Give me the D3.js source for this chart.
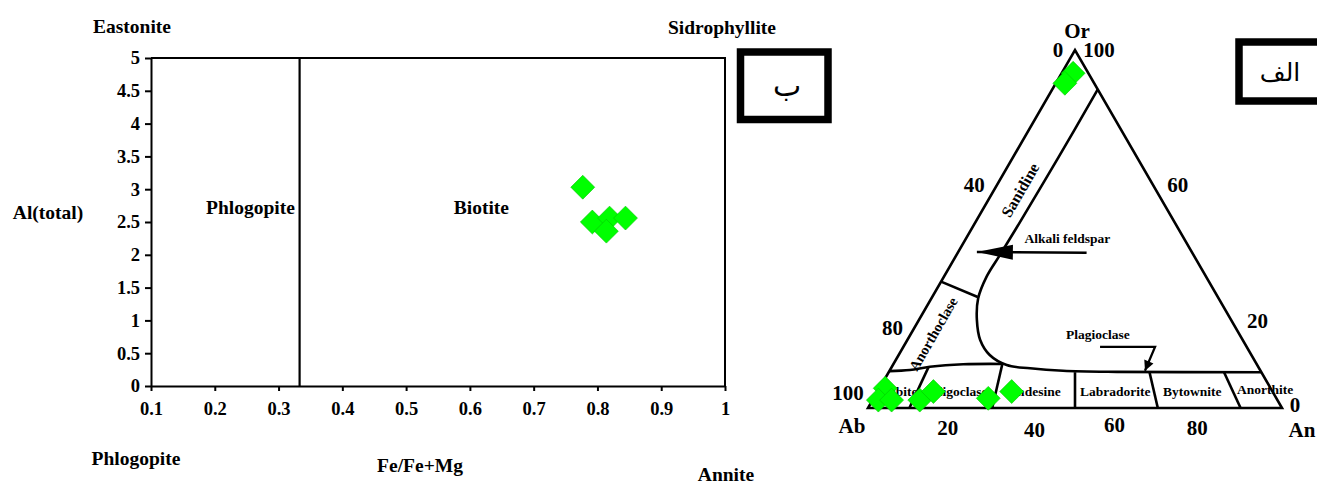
<!DOCTYPE html>
<html>
<head>
<meta charset="utf-8">
<script src="https://cdn.jsdelivr.net/npm/d3@7"></script>
<style>
  body { margin: 0; background: #fff; }
  svg text { font-family: "Liberation Serif", "Times New Roman", serif; font-weight: bold; fill: #000; }
</style>
</head>
<body>
<div id="chart"></div>
<script>
// biotite diagram (ب)
const xTicks = [0.1, 0.2, 0.3, 0.4, 0.5, 0.6, 0.7, 0.8, 0.9, 1]
const xTickLabels = ['0.1', '0.2', '0.3', '0.4', '0.5', '0.6', '0.7', '0.8', '0.9', '1']
const yTicks = [0, 0.5, 1, 1.5, 2, 2.5, 3, 3.5, 4, 4.5, 5]
const yTickLabels = ['0', '0.5', '1', '1.5', '2', '2.5', '3', '3.5', '4', '4.5', '5']
const phlogopiteLimit = 0.333
const micaFeRatio = [0.777, 0.792, 0.819, 0.844, 0.814]
const micaAlTotal = [3.03, 2.50, 2.56, 2.56, 2.36]

// feldspar ternary (الف), values in percent
const feldsparOr = [93.5, 90.7, 5.5, 2.2, 2.2, 2.2, 4.6, 2.7, 4.6]
const feldsparAn = [2.8, 2.2, 1.4, 1.4, 4.6, 11.4, 13.5, 27.7, 32.4]
const abSideTicks = [0, 40, 80, 100]
const orSideTicks = [100, 60, 20, 0]
const anBaseTicks = [20, 40, 60, 80]

// field boundaries as [An, Or]
const alkaliBoundary = [[11, 89], [11, 70], [10.7, 50], [10.5, 42.7], [10.3, 36.7], [11.3, 30.6], [14, 24.6],
  [17.6, 19], [22, 14.8], [27.5, 12], [33.6, 11.1], [41.9, 10.4], [55, 10.1], [90, 10]]
const sanidineBoundary = [[0, 35.3], [11, 31]]
const anorthoclaseBoundary = [[0, 10.3], [4.8, 10.6], [9.2, 11.5], [16.9, 12.2], [26.5, 12.3]]
const plagDividerBase = [10, 30, 50, 70, 90]
const plagDividerTop = [[8.9, 11.5], [26.3, 12.3], [45, 10], [63, 10], [81, 10]]
const plagFields = ['Albite', 'Oligoclase', 'Andesine', 'Labradorite', 'Bytownite', 'Anorthite']
const plagFieldPos = [[6, 3.4], [20, 3.4], [38.4, 3.4], [58, 3.4], [76.6, 3.4], [94, 3.9]]
const alkaliArrow = [[31.1, 43.4], [4.5, 43.6]]
const plagArrow = [[47.5, 17.1], [60.8, 17.1], [61.7, 10.4]]

let svg = d3.select('#chart')
  .append('svg')
  .attr('width', 1317)
  .attr('height', 484)
  .style('background', '#fff')

// ---------- left chart ----------
let x = d3.scaleLinear().domain([0.1, 1]).range([151, 725])
let y = d3.scaleLinear().domain([0, 5]).range([386, 58])

let xAxis = svg.append('g')
  .attr('transform', 'translate(0,386)')
  .call(d3.axisBottom(x).tickValues(xTicks).tickFormat((d, i) => xTickLabels[i])
    .tickSize(5).tickSizeOuter(0).tickPadding(11))

let yAxis = svg.append('g')
  .attr('transform', 'translate(151,0)')
  .call(d3.axisLeft(y).tickValues(yTicks).tickFormat((d, i) => yTickLabels[i])
    .tickSize(6).tickSizeOuter(0).tickPadding(5))

;[xAxis, yAxis].forEach(g => {
  g.attr('font-family', null).attr('font-size', 18.5)
  g.selectAll('path, line').attr('stroke', '#000').attr('stroke-width', 2)
})

svg.append('path')
  .attr('d', `M${x(0.1)},${y(5)}H${x(1)}V${y(0)}`)
  .attr('fill', 'none')
  .attr('stroke', '#000')
  .attr('stroke-width', 2)

svg.append('line')
  .attr('x1', x(phlogopiteLimit)).attr('x2', x(phlogopiteLimit))
  .attr('y1', y(0)).attr('y2', y(5))
  .attr('stroke', '#000')
  .attr('stroke-width', 2.2)

let leftLabels = [
  { t: 'Eastonite', x: 132, y: 33 },
  { t: 'Sidrophyllite', x: 722, y: 34 },
  { t: 'Al(total)', x: 48, y: 219 },
  { t: 'Phlogopite', x: x(0.256), y: 213.5 },
  { t: 'Biotite', x: x(0.618), y: 213.5 },
  { t: 'Phlogopite', x: 136, y: 465 },
  { t: 'Fe/Fe+Mg', x: 420, y: 472 },
  { t: 'Annite', x: 726, y: 481 }
]
svg.selectAll('text.lbl')
  .data(leftLabels)
  .enter()
  .append('text')
  .attr('class', 'lbl')
  .attr('x', d => d.x)
  .attr('y', d => d.y)
  .attr('text-anchor', 'middle')
  .attr('font-size', 19.5)
  .text(d => d.t)

let diamond = d3.symbol().type(d3.symbolSquare).size(285)

svg.selectAll('path.mica')
  .data(micaFeRatio)
  .enter()
  .append('path')
  .attr('class', 'mica')
  .attr('d', diamond)
  .attr('transform', (d, i) => `translate(${x(d)},${y(micaAlTotal[i])}) rotate(45)`)
  .attr('fill', '#00ff00')
  .attr('stroke', '#00c800')
  .attr('stroke-width', 0.6)

// label boxes
function labelBox(bx, by, bw, bh, txt, tx, ty, fs) {
  svg.append('rect')
    .attr('x', bx).attr('y', by).attr('width', bw).attr('height', bh)
    .attr('fill', '#fff')
    .attr('stroke', '#000')
    .attr('stroke-width', 7.5)
  svg.append('text')
    .attr('x', tx).attr('y', ty)
    .attr('text-anchor', 'middle')
    .attr('font-size', fs)
    .style('font-family', '"DejaVu Sans", sans-serif')
    .style('font-weight', 'normal')
    .text(txt)
}
labelBox(740.5, 52, 87.5, 67.5, 'ب', 787, 96, 30)
labelBox(1239, 42, 90, 59, 'الف', 1280, 81, 25)

// ---------- ternary ----------
let tx = d3.scaleLinear().domain([0, 100]).range([868, 1282])
let ty = d3.scaleLinear().domain([0, 100]).range([408, 50])
function tern(an, or) { return [tx(an + or / 2), ty(or)] }

let straight = d3.line().x(d => tern(d[0], d[1])[0]).y(d => tern(d[0], d[1])[1])
let curved = d3.line().x(d => tern(d[0], d[1])[0]).y(d => tern(d[0], d[1])[1]).curve(d3.curveCatmullRom.alpha(0.5))

let tern_g = svg.append('g')
  .attr('fill', 'none')
  .attr('stroke', '#000')
  .attr('stroke-width', 2.6)
  .attr('stroke-linejoin', 'miter')

tern_g.append('path').attr('d', straight([[0, 0], [100, 0], [0, 100]]) + 'Z')
tern_g.append('path').attr('d', curved(alkaliBoundary))
tern_g.append('path').attr('d', straight(sanidineBoundary))
tern_g.append('path').attr('d', curved(anorthoclaseBoundary))
plagDividerBase.forEach((b, i) => {
  tern_g.append('path').attr('d', straight([[b, 0], plagDividerTop[i]]))
})

// arrows
function arrow(pts, len, half, sw) {
  tern_g.append('path').attr('d', straight(pts)).attr('stroke-width', sw)
  let a = tern(...pts[pts.length - 2]), b = tern(...pts[pts.length - 1])
  let ang = Math.atan2(b[1] - a[1], b[0] - a[0])
  let c = Math.cos(ang), s = Math.sin(ang)
  let bx = b[0] - c * len, by = b[1] - s * len
  svg.append('path')
    .attr('d', `M${b[0]},${b[1]}L${bx - s * half},${by + c * half}L${bx + s * half},${by - c * half}Z`)
    .attr('fill', '#000')
}
arrow(alkaliArrow, 36, 7.5, 2.5)
arrow(plagArrow, 10, 5, 2.2)

// tick labels on the triangle
let tickLabels = []
abSideTicks.forEach((v, i) => {
  let off = [[-17, 7], [-18, -1], [-17, -1.5], [-20, -8]][i]
  let p = tern(0, 100 - v)
  tickLabels.push({ t: v, x: p[0] + off[0], y: p[1] + off[1] })
})
orSideTicks.forEach((v, i) => {
  let off = [[24, 7], [20, -1], [17, -8], [13, 4]][i]
  let p = tern(100 - v, v)
  tickLabels.push({ t: v, x: p[0] + off[0], y: p[1] + off[1] })
})
anBaseTicks.forEach((v, i) => {
  let off = [[-3, 27], [1, 29], [-2, 24], [-2, 27]][i]
  let p = tern(v, 0)
  tickLabels.push({ t: v, x: p[0] + off[0], y: p[1] + off[1] })
})
let corners = [
  { t: 'Or', p: tern(0, 100), off: [2, -12] },
  { t: 'Ab', p: tern(0, 0), off: [-16, 25] },
  { t: 'An', p: tern(100, 0), off: [20, 29] }
]
corners.forEach(c => tickLabels.push({ t: c.t, x: c.p[0] + c.off[0], y: c.p[1] + c.off[1] }))

svg.selectAll('text.tick3')
  .data(tickLabels)
  .enter()
  .append('text')
  .attr('class', 'tick3')
  .attr('x', d => d.x)
  .attr('y', d => d.y)
  .attr('text-anchor', 'middle')
  .attr('font-size', 21)
  .text(d => d.t)

// field names
svg.selectAll('text.field')
  .data(plagFields)
  .enter()
  .append('text')
  .attr('class', 'field')
  .attr('x', (d, i) => tern(...plagFieldPos[i])[0])
  .attr('y', (d, i) => tern(...plagFieldPos[i])[1])
  .attr('text-anchor', 'middle')
  .attr('font-size', 13.5)
  .text(d => d)

let otherFields = [
  { t: 'Alkali feldspar', p: [25.1, 46.1], r: 0, fs: 13.5 },
  { t: 'Plagioclase', p: [45.9, 19.3], r: 0, fs: 13.5 },
  { t: 'Sanidine', p: [6.3, 60.9], r: -60, fs: 16, mid: true },
  { t: 'Anorthoclase', p: [5.4, 20.7], r: -60, fs: 14.5, mid: true }
]
otherFields.forEach(f => {
  let p = tern(...f.p)
  svg.append('text')
    .attr('transform', `translate(${p[0]},${p[1]}) rotate(${f.r})`)
    .attr('dy', f.mid ? '0.35em' : 0)
    .attr('text-anchor', 'middle')
    .attr('font-size', f.fs)
    .text(f.t)
})

svg.selectAll('path.feld')
  .data(feldsparOr)
  .enter()
  .append('path')
  .attr('class', 'feld')
  .attr('d', diamond)
  .attr('transform', (d, i) => {
    let p = tern(feldsparAn[i], d)
    return `translate(${p[0]},${p[1]}) rotate(45)`
  })
  .attr('fill', '#00ff00')
  .attr('stroke', '#00c800')
  .attr('stroke-width', 0.6)
</script>
</body>
</html>
